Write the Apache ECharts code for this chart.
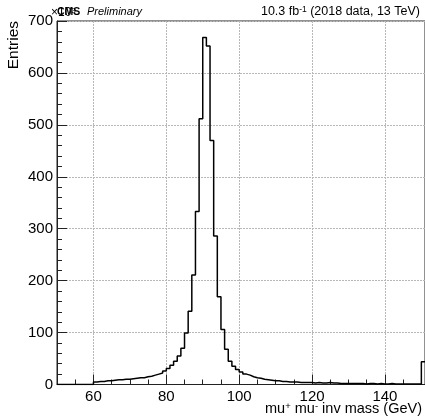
<!DOCTYPE html>
<html><head><meta charset="utf-8">
<script src="https://cdn.jsdelivr.net/npm/echarts@6/dist/echarts.min.js"></script>
<style>html,body{margin:0;padding:0;background:#fff}#c{width:425px;height:416px}</style>
</head><body><div id="c"></div>
<script>
// ---- data ----
const binStart = 50;   // GeV, low edge of first bin
const binWidth = 1;    // GeV
const counts = [
  0,0,0,0,0,0,0,0,0,0,            // 50-59
  5,6,6,7,7,8,9,9,10,10,          // 60-69
  11,12,13,13,15,16,18,20,22,26,  // 70-79
  31,37,45,55,70,99,141,211,333,512, // 80-89
  668,652,470,286,169,106,68,45,35,29, // 90-99
  24,20,18,15,13,12,10,9,8,7,     // 100-109
  7,6,6,5,5,5,4,4,4,4,            // 110-119
  3,4,3,3,4,3,3,2,2,2,            // 120-129
  2,2,2,2,1,2,2,1,2,1,            // 130-139
  1,2,1,1,1,1,1,1,1,1,            // 140-149
  44                              // 150-151
];
const xMin = 50, xMax = 151;
const xTickLabels = [60, 80, 100, 120, 140];
const xMinorTicks = [50,55,60,65,70,75,80,85,90,95,100,105,110,115,120,125,130,135,140,145,150];
const yMin = 0, yMax = 700, yStep = 100;

// ---- build step points ----
const pts = [[binStart, 0]];
counts.forEach((c, i) => pts.push([binStart + i * binWidth, c]));
pts.push([binStart + counts.length * binWidth, counts[counts.length - 1]]);

const FONT = 'Liberation Sans, Arial, Helvetica, sans-serif';
const GRID_LINE = {type: [2, 1], color: '#b8b8b8', width: 1};
const chart = echarts.init(document.getElementById('c'), null, {renderer: 'canvas'});
chart.setOption({
  animation: false,
  backgroundColor: '#fff',
  grid: {left: 57, right: 0, top: 21, bottom: 31.5, show: true, borderColor: '#222', borderWidth: 1, backgroundColor: 'transparent'},
  xAxis: [
    {
      type: 'value', min: xMin, max: xMax, position: 'bottom',
      axisLine: {show: true, onZero: false, lineStyle: {color: '#222', width: 1}},
      axisTick: {show: true, inside: true, length: 5, customValues: xMinorTicks, lineStyle: {color: '#222'}},
      axisLabel: {customValues: xTickLabels, fontSize: 15, fontFamily: FONT, color: '#000', margin: 5},
      splitLine: {show: false}
    },
    {
      type: 'value', min: xMin, max: xMax, position: 'bottom',
      axisLine: {show: false},
      axisTick: {show: true, inside: true, length: 10, customValues: xTickLabels, lineStyle: {color: '#222'}},
      axisLabel: {show: false},
      splitLine: {show: true, lineStyle: GRID_LINE}
    }
  ],
  yAxis: {
    type: 'value', min: yMin, max: yMax, interval: yStep,
    axisLine: {show: true, lineStyle: {color: '#222'}},
    axisTick: {show: true, inside: true, length: 10, lineStyle: {color: '#222'}},
    minorTick: {show: true, splitNumber: 5, length: 5, lineStyle: {color: '#222'}},
    axisLabel: {fontSize: 15, fontFamily: FONT, color: '#000', margin: 4},
    splitLine: {show: true, lineStyle: GRID_LINE}
  },
  series: [{
    type: 'line', step: 'end', xAxisIndex: 0, data: pts,
    showSymbol: false, symbol: 'none', clip: true,
    lineStyle: {color: '#000', width: 1.5}
  }],
  graphic: [
    {type: 'text', x: 6, y: 21, rotation: Math.PI / 2,
     style: {text: 'Entries', font: '15.5px ' + FONT, fill: '#000', textAlign: 'right', textVerticalAlign: 'top'}},
    {type: 'text', x: 51, y: 13,
     style: {text: '×10{s|3}', font: '12px ' + FONT, fill: '#000', textVerticalAlign: 'middle',
             rich: {s: {fontSize: 8, verticalAlign: 'top', fontFamily: FONT}}}},
    {type: 'text', x: 57, y: 12,
     style: {text: 'CMS', font: 'bold 10.5px ' + FONT, fill: '#000', textVerticalAlign: 'middle'}},
    {type: 'text', x: 87, y: 12,
     style: {text: 'Preliminary', font: 'italic 11px ' + FONT, fill: '#000', textVerticalAlign: 'middle'}},
    {type: 'text', x: 420, y: 12,
     style: {text: '10.3 fb{s|-1} (2018 data, 13 TeV)', font: '12.5px ' + FONT, fill: '#000',
             textAlign: 'right', textVerticalAlign: 'middle',
             rich: {s: {fontSize: 8.5, verticalAlign: 'top', fontFamily: FONT}}}},
    {type: 'text', x: 422, y: 409,
     style: {text: 'mu{s|+} mu{s|-} inv mass (GeV)', font: '14.5px ' + FONT, fill: '#000',
             textAlign: 'right', textVerticalAlign: 'middle',
             rich: {s: {fontSize: 9.5, verticalAlign: 'top', fontFamily: FONT}}}}
  ]
});
</script>
</body></html>
